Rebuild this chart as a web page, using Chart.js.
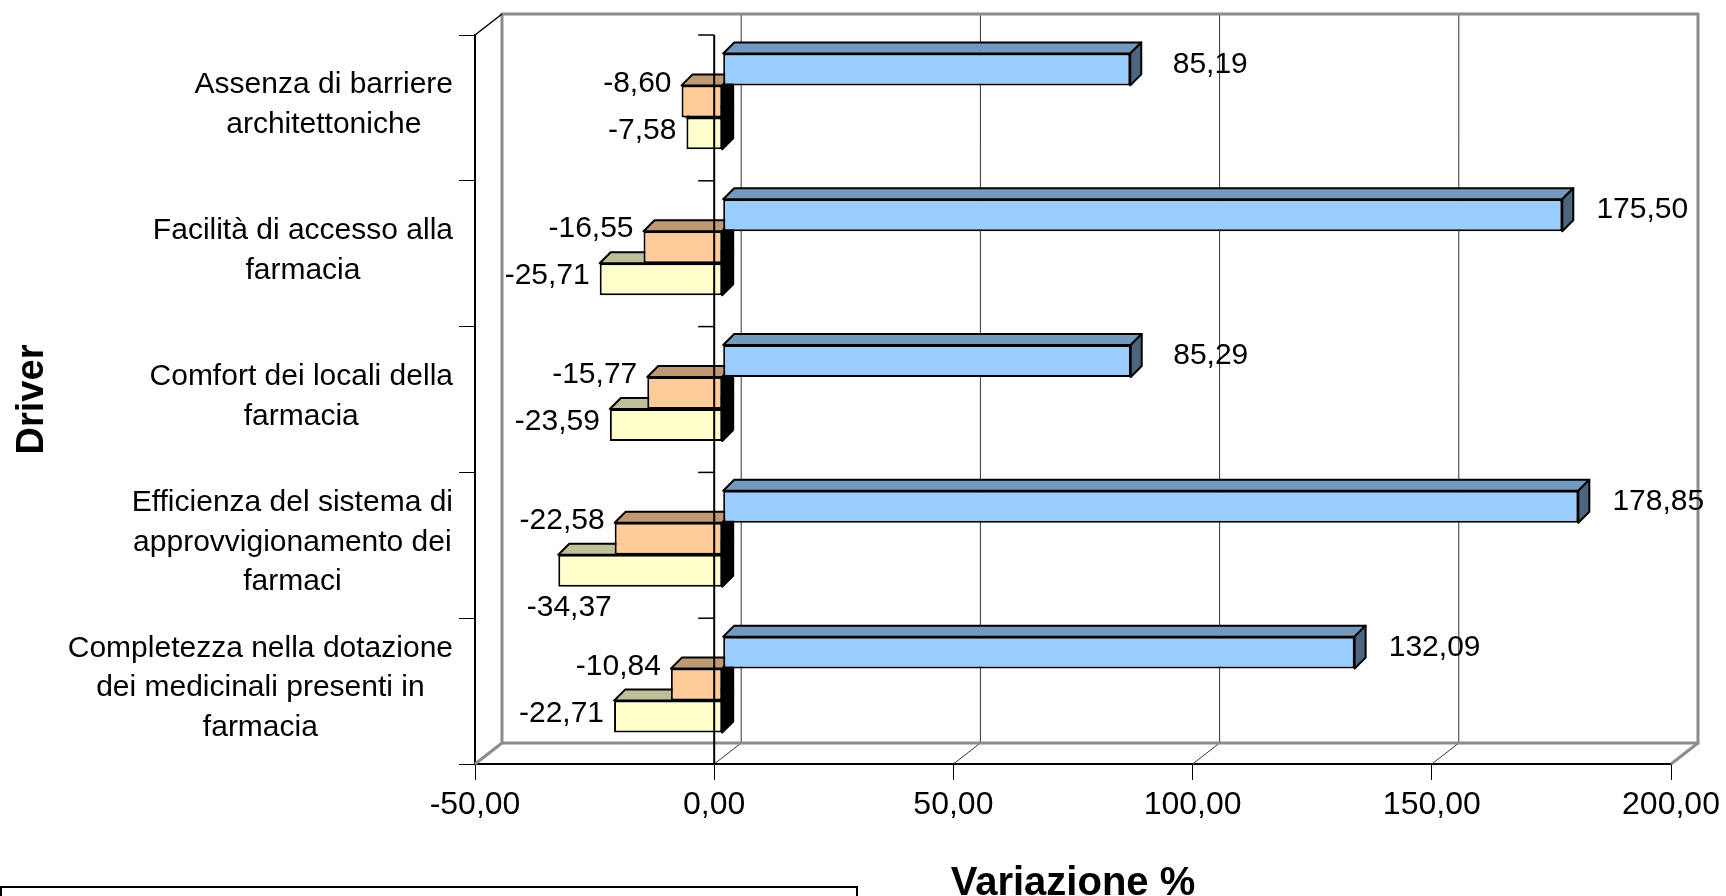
<!DOCTYPE html>
<html>
<head>
<meta charset="utf-8">
<script src="https://cdn.jsdelivr.net/npm/chart.js@4.4.1/dist/chart.umd.min.js"></script>
<style>
  html, body { margin: 0; padding: 0; background: #fff; }
  #wrap { width: 1726px; height: 896px; }
</style>
</head>
<body>
<div id="wrap"><canvas id="chart"></canvas></div>
<script>
// categories (top to bottom), one array of lines per driver
const drivers = [
  ['Assenza di barriere', 'architettoniche'],
  ['Facilità di accesso alla', 'farmacia'],
  ['Comfort dei locali della', 'farmacia'],
  ['Efficienza del sistema di', 'approvvigionamento dei', 'farmaci'],
  ['Completezza nella dotazione', 'dei medicinali presenti in', 'farmacia']
];
// series values (legend text is cut off in the original)
const serie1 = [85.19, 175.50, 85.29, 178.85, 132.09];
const serie2 = [-8.60, -16.55, -15.77, -22.58, -10.84];
const serie3 = [-7.58, -25.71, -23.59, -34.37, -22.71];
const xTicks = [-50, 0, 50, 100, 150, 200];

const FONT = '"Liberation Sans", Arial, sans-serif';
const fmt = v => v.toFixed(2).replace('.', ',');

// 3D look: back wall offset, bar plane offset and bar depth
const WALL = { dx: 27, dy: -21 };
const BAR = { dx: 8.5, dy: -6.5, depth: 11 };
const shade = [
  { top: '#7399bf', side: '#4d6680', labelDy: -5 },
  { top: '#bf9973', side: '#000000', labelDy: null },
  { top: '#bfbf99', side: '#000000', labelDy: -3 }
];

function seg(ctx, x1, y1, x2, y2) {
  ctx.beginPath();
  ctx.moveTo(x1, y1);
  ctx.lineTo(x2, y2);
  ctx.stroke();
}

function face(ctx, pts, fill) {
  ctx.beginPath();
  ctx.moveTo(pts[0][0], pts[0][1]);
  for (let i = 1; i < pts.length; i++) ctx.lineTo(pts[i][0], pts[i][1]);
  ctx.closePath();
  ctx.fillStyle = fill;
  ctx.fill();
  ctx.stroke();
}

const box3d = {
  id: 'box3d',
  beforeDatasetsDraw(chart) {
    const { ctx, chartArea: a, scales: { x } } = chart;
    const dx = WALL.dx, dy = WALL.dy;
    ctx.save();
    // gridlines on the back wall and floor
    ctx.strokeStyle = '#333';
    ctx.lineWidth = 1;
    x.ticks.forEach(t => {
      if (t.value <= x.min || t.value >= x.max) return;
      const px = x.getPixelForValue(t.value);
      seg(ctx, px + dx, a.top + dy, px + dx, a.bottom + dy);
      seg(ctx, px, a.bottom, px + dx, a.bottom + dy);
    });
    // wall edges
    ctx.strokeStyle = '#8c8c8c';
    ctx.lineWidth = 3;
    ctx.beginPath();
    ctx.moveTo(a.left + dx, a.bottom + dy);
    ctx.lineTo(a.left + dx, a.top + dy);
    ctx.lineTo(a.right + dx, a.top + dy);
    ctx.lineTo(a.right + dx, a.bottom + dy);
    ctx.closePath();
    ctx.stroke();
    seg(ctx, a.left, a.bottom, a.left + dx, a.bottom + dy);
    seg(ctx, a.right, a.bottom, a.right + dx, a.bottom + dy);
    ctx.strokeStyle = '#000';
    ctx.lineWidth = 1.5;
    seg(ctx, a.left, a.top, a.left + dx, a.top + dy);
    ctx.restore();

    ctx.save();
    ctx.translate(BAR.dx, BAR.dy);
  },
  afterDatasetDraw(chart, args) {
    const { ctx } = chart;
    const d = BAR.depth;
    const c = shade[args.index];
    ctx.save();
    ctx.strokeStyle = '#000';
    ctx.lineWidth = 2;
    ctx.lineJoin = 'round';
    args.meta.data.forEach(el => {
      const p = el.getProps(['x', 'y', 'base', 'height'], true);
      const l = Math.min(p.x, p.base), r = Math.max(p.x, p.base);
      const t = p.y - p.height / 2, b = p.y + p.height / 2;
      face(ctx, [[l, t], [l + d, t - d], [r + d, t - d], [r, t]], c.top);
      face(ctx, [[r, t], [r + d, t - d], [r + d, b - d], [r, b]], c.side);
    });
    ctx.restore();
  },
  afterDatasetsDraw(chart) {
    const { ctx, chartArea: a, scales: { x, y } } = chart;
    ctx.font = `30px ${FONT}`;
    ctx.fillStyle = '#000';
    ctx.textBaseline = 'middle';
    chart.data.datasets.forEach((ds, i) => {
      const meta = chart.getDatasetMeta(i);
      meta.data.forEach((el, j) => {
        const v = ds.data[j];
        const txt = fmt(v);
        const p = el.getProps(['x', 'y', 'base', 'height'], true);
        const t = p.y - p.height / 2, b = p.y + p.height / 2;
        if (v >= 0) {
          ctx.textAlign = 'center';
          ctx.fillText(txt, p.x + 80, p.y + shade[i].labelDy);
        } else {
          const w = ctx.measureText(txt).width;
          const ly = shade[i].labelDy === null ? t - 2 : p.y + shade[i].labelDy;
          if (p.x - 10 - w < a.left - BAR.dx) {
            ctx.textAlign = 'center';
            ctx.fillText(txt, p.x + 11, b + 21);
          } else {
            ctx.textAlign = 'right';
            ctx.fillText(txt, p.x - 10, ly);
          }
        }
      });
    });
    ctx.restore();

    // category axis crossing at 0 (front plane)
    ctx.save();
    const zx = x.getPixelForValue(0);
    ctx.strokeStyle = '#000';
    ctx.lineWidth = 2;
    seg(ctx, zx, a.top, zx, a.bottom);
    ctx.lineWidth = 1.5;
    for (let i = 0; i <= drivers.length; i++) {
      const py = y.getPixelForValue(i - 0.5);
      seg(ctx, zx - 16, py, zx, py);
    }
    ctx.restore();
  },
  afterDraw(chart) {
    const { ctx, chartArea: a, scales: { y } } = chart;
    ctx.save();
    ctx.font = `30px ${FONT}`;
    ctx.fillStyle = '#000';
    ctx.textAlign = 'center';
    ctx.textBaseline = 'middle';
    const lineH = 39.6;
    drivers.forEach((lines, i) => {
      const w = Math.max(...lines.map(s => ctx.measureText(s).width));
      const cx = a.left - 22 - w / 2;
      const cy = y.getPixelForValue(i) - 3;
      const y0 = cy - (lines.length - 1) * lineH / 2;
      lines.forEach((s, k) => ctx.fillText(s, cx, y0 + k * lineH));
    });
    // legend frame (cut off at the bottom in the original)
    ctx.strokeStyle = '#000';
    ctx.lineWidth = 2;
    ctx.strokeRect(1, 887, 856, 30);
    ctx.restore();
  }
};

new Chart(document.getElementById('chart'), {
  type: 'bar',
  data: {
    labels: drivers,
    datasets: [
      { label: 'Serie 1', data: serie1, backgroundColor: '#99ccff' },
      { label: 'Serie 2', data: serie2, backgroundColor: '#ffcc99' },
      { label: 'Serie 3', data: serie3, backgroundColor: '#ffffcc' }
    ]
  },
  options: {
    indexAxis: 'y',
    responsive: true,
    maintainAspectRatio: false,
    devicePixelRatio: 1,
    animation: false,
    layout: { padding: { top: 35, right: 55, left: 0, bottom: 0 } },
    datasets: {
      bar: {
        borderColor: '#000',
        borderWidth: 2,
        borderSkipped: false,
        categoryPercentage: 0.658,
        barPercentage: 1,
        clip: false
      }
    },
    plugins: {
      legend: { display: false },
      tooltip: { enabled: false }
    },
    scales: {
      x: {
        min: xTicks[0],
        max: xTicks[xTicks.length - 1],
        ticks: {
          stepSize: xTicks[1] - xTicks[0],
          color: '#000',
          font: { family: FONT, size: 32 },
          padding: 6,
          maxRotation: 0,
          autoSkip: false,
          callback: v => fmt(v)
        },
        grid: { drawOnChartArea: false, drawTicks: true, tickLength: 16, color: '#000' },
        border: { display: true, color: '#000', width: 2 },
        title: {
          display: true,
          text: 'Variazione %',
          color: '#000',
          font: { family: FONT, size: 40, weight: 'bold', lineHeight: 1 },
          padding: { top: 0, bottom: -8 }
        },
        afterFit: s => { s.height = 132; }
      },
      y: {
        ticks: { display: false },
        grid: { drawOnChartArea: false, drawTicks: true, tickLength: 16, color: '#000', offset: true },
        border: { display: true, color: '#000', width: 2 },
        title: {
          display: true,
          text: 'Driver',
          color: '#000',
          font: { family: FONT, size: 38, weight: 'bold' },
          padding: { top: 10, bottom: 0 }
        },
        afterFit: s => { s.width = 475; }
      }
    }
  },
  plugins: [box3d]
});
</script>
</body>
</html>
